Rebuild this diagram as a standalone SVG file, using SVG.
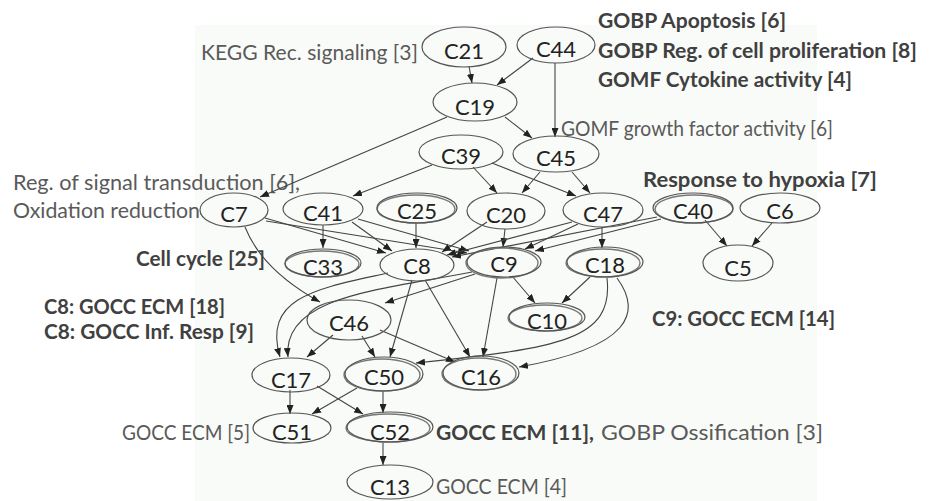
<svg xmlns="http://www.w3.org/2000/svg" width="934" height="501" viewBox="0 0 934 501">
  <style>
    .node ellipse { fill: none; stroke: #555; stroke-width: 1.2; }
    .node ellipse.sh { stroke: #777; stroke-width: 1.4; }
    .node text { font-family: Lato, "Liberation Sans", sans-serif; font-size: 22px; fill: #222; text-anchor: middle; }
    .edges path { fill: none; stroke: #444; stroke-width: 1.1; marker-end: url(#arr); }
    .note { font-family: Lato, "Liberation Sans", sans-serif; font-size: 21px; fill: #5a5a5a; }
    .b { font-weight: bold; fill: #404040; }
  </style>
  <defs>
    <marker id="arr" markerUnits="userSpaceOnUse" markerWidth="9" markerHeight="7" refX="9" refY="3.5" orient="auto">
      <path d="M0,0 L9,3.5 L0,7 z" fill="#222"/>
    </marker>
  </defs>
  <rect width="934" height="501" fill="#ffffff"/>
  <rect x="195" y="25" width="622" height="476" fill="#f9fbf8"/>

  <!-- annotations -->
  <text class="note" x="201" y="60" textLength="217" lengthAdjust="spacingAndGlyphs">KEGG Rec. signaling [3]</text>
  <text class="note b" x="598" y="28" textLength="188" lengthAdjust="spacingAndGlyphs">GOBP Apoptosis [6]</text>
  <text class="note b" x="598" y="58" textLength="319" lengthAdjust="spacingAndGlyphs">GOBP Reg. of cell proliferation [8]</text>
  <text class="note b" x="598" y="87" textLength="254" lengthAdjust="spacingAndGlyphs">GOMF Cytokine activity [4]</text>
  <text class="note" x="561" y="136" textLength="272" lengthAdjust="spacingAndGlyphs">GOMF growth factor activity [6]</text>
  <text class="note" x="13" y="190" textLength="287" lengthAdjust="spacingAndGlyphs">Reg. of signal transduction [6],</text>
  <text class="note" x="13" y="218" textLength="187" lengthAdjust="spacingAndGlyphs">Oxidation reduction</text>
  <text class="note b" x="643" y="187" textLength="234" lengthAdjust="spacingAndGlyphs">Response to hypoxia [7]</text>
  <text class="note b" x="136" y="266" textLength="129" lengthAdjust="spacingAndGlyphs">Cell cycle [25]</text>
  <text class="note b" x="44" y="314" textLength="181" lengthAdjust="spacingAndGlyphs">C8: GOCC ECM [18]</text>
  <text class="note b" x="44" y="339" textLength="210" lengthAdjust="spacingAndGlyphs">C8: GOCC Inf. Resp [9]</text>
  <text class="note b" x="652" y="326" textLength="183" lengthAdjust="spacingAndGlyphs">C9: GOCC ECM [14]</text>
  <text class="note" x="122" y="440" textLength="128" lengthAdjust="spacingAndGlyphs">GOCC ECM [5]</text>
  <text class="note b" x="436" y="440" textLength="158" lengthAdjust="spacingAndGlyphs">GOCC ECM [11],</text>
  <text class="note" x="601" y="440" textLength="222" lengthAdjust="spacingAndGlyphs">GOBP Ossification [3]</text>
  <text class="note" x="436" y="494" textLength="131" lengthAdjust="spacingAndGlyphs">GOCC ECM [4]</text>

  <!-- connectors -->
  <g class="edges">
    <path d="M469,66 L472,83"/>
    <path d="M533,58 L497,85"/>
    <path d="M555,63 L555,137"/>
    <path d="M505,117 L532,138"/>
    <path d="M447,117 L260,197"/>
    <path d="M432,165 L353,196"/>
    <path d="M473,167 L497,193"/>
    <path d="M492,163 L576,196"/>
    <path d="M540,172 L522,193"/>
    <path d="M572,172 L590,193"/>
    <path d="M323,225 L323,248"/>
    <path d="M352,222 L392,251"/>
    <path d="M358,219 L469,251"/>
    <path d="M265,218 L386,253"/>
    <path d="M266,221 L467,253"/>
    <path d="M416,222 L416,248"/>
    <path d="M487,222 L442,252"/>
    <path d="M505,229 L503,247"/>
    <path d="M572,222 L447,255"/>
    <path d="M578,224 L525,249"/>
    <path d="M657,217 L452,257"/>
    <path d="M661,219 L535,251"/>
    <path d="M602,227 L602,248"/>
    <path d="M705,220 L727,246"/>
    <path d="M772,223 L752,246"/>
    <path d="M245,227 Q262,270 320,302"/>
    <path d="M388,273 C320,288 262,296 280,357"/>
    <path d="M472,272 C380,290 282,296 288,357"/>
    <path d="M475,274 L385,303"/>
    <path d="M412,280 L390,357"/>
    <path d="M425,280 L470,357"/>
    <path d="M497,278 L483,357"/>
    <path d="M512,276 L535,303"/>
    <path d="M590,277 L562,303"/>
    <path d="M607,278 C614,340 560,348 416,363"/>
    <path d="M617,278 C642,312 632,347 519,367"/>
    <path d="M333,335 L307,357"/>
    <path d="M362,336 L375,357"/>
    <path d="M380,330 L455,362"/>
    <path d="M290,390 L290,414"/>
    <path d="M317,386 L363,414"/>
    <path d="M357,388 L312,414"/>
    <path d="M383,391 L383,413"/>
    <path d="M383,443 L383,465"/>
  </g>

  <!-- nodes -->
  <g id="C21" class="node"><ellipse cx="464" cy="47" rx="42" ry="20"/><text x="464" y="59">C21</text></g>
  <g id="C44" class="node"><ellipse cx="556" cy="45" rx="39" ry="18"/><text x="556" y="57">C44</text></g>
  <g id="C19" class="node"><ellipse cx="475" cy="102" rx="42" ry="19"/><text x="475" y="115">C19</text></g>
  <g id="C39" class="node"><ellipse cx="461" cy="152" rx="42" ry="17"/><text x="461" y="164">C39</text></g>
  <g id="C45" class="node"><ellipse cx="556" cy="154" rx="43" ry="18"/><text x="556" y="166">C45</text></g>
  <g id="C7" class="node"><ellipse cx="234" cy="210" rx="34" ry="17"/><text x="234" y="222">C7</text></g>
  <g id="C41" class="node"><ellipse cx="323" cy="209" rx="40" ry="16"/><text x="323" y="221">C41</text></g>
  <g id="C25" class="node"><ellipse class="sh" cx="416" cy="209" rx="39" ry="14"/><ellipse cx="417" cy="208" rx="40" ry="15"/><text x="417" y="219">C25</text></g>
  <g id="C20" class="node"><ellipse cx="506" cy="211" rx="39" ry="18"/><text x="506" y="223">C20</text></g>
  <g id="C47" class="node"><ellipse cx="603" cy="210" rx="40" ry="17"/><text x="603" y="222">C47</text></g>
  <g id="C40" class="node"><ellipse class="sh" cx="694" cy="209" rx="39" ry="14"/><ellipse cx="693" cy="208" rx="40" ry="15"/><text x="693" y="219">C40</text></g>
  <g id="C6" class="node"><ellipse cx="780" cy="208" rx="40" ry="15"/><text x="780" y="219">C6</text></g>
  <g id="C5" class="node"><ellipse cx="738" cy="263" rx="35" ry="18"/><text x="738" y="276">C5</text></g>
  <g id="C33" class="node"><ellipse class="sh" cx="322" cy="264" rx="37" ry="13"/><ellipse cx="323" cy="263" rx="38" ry="14"/><text x="323" y="275">C33</text></g>
  <g id="C8" class="node"><ellipse cx="417" cy="265" rx="37" ry="16"/><text x="417" y="274">C8</text></g>
  <g id="C9" class="node"><ellipse class="sh" cx="502" cy="263" rx="36" ry="15"/><ellipse cx="504" cy="262" rx="37" ry="15"/><text x="504" y="272">C9</text></g>
  <g id="C18" class="node"><ellipse class="sh" cx="603" cy="263" rx="37" ry="14"/><ellipse cx="605" cy="262" rx="38" ry="15"/><text x="605" y="273">C18</text></g>
  <g id="C10" class="node"><ellipse class="sh" cx="545" cy="318" rx="37" ry="13"/><ellipse cx="547" cy="317" rx="38" ry="14"/><text x="547" y="329">C10</text></g>
  <g id="C46" class="node"><ellipse cx="349" cy="320" rx="42" ry="20"/><text x="349" y="331">C46</text></g>
  <g id="C17" class="node"><ellipse cx="291" cy="375" rx="39" ry="17"/><text x="291" y="388">C17</text></g>
  <g id="C50" class="node"><ellipse class="sh" cx="382" cy="375" rx="38" ry="16"/><ellipse cx="384" cy="374" rx="39" ry="17"/><text x="384" y="385">C50</text></g>
  <g id="C16" class="node"><ellipse class="sh" cx="479" cy="374" rx="37" ry="16"/><ellipse cx="481" cy="373" rx="38" ry="17"/><text x="481" y="385">C16</text></g>
  <g id="C51" class="node"><ellipse cx="292" cy="428" rx="39" ry="15"/><text x="292" y="440">C51</text></g>
  <g id="C52" class="node"><ellipse class="sh" cx="388" cy="428" rx="42" ry="14"/><ellipse cx="390" cy="427" rx="43" ry="15"/><text x="390" y="440">C52</text></g>
  <g id="C13" class="node"><ellipse cx="390" cy="482" rx="43" ry="17"/><text x="390" y="495">C13</text></g>
</svg>
